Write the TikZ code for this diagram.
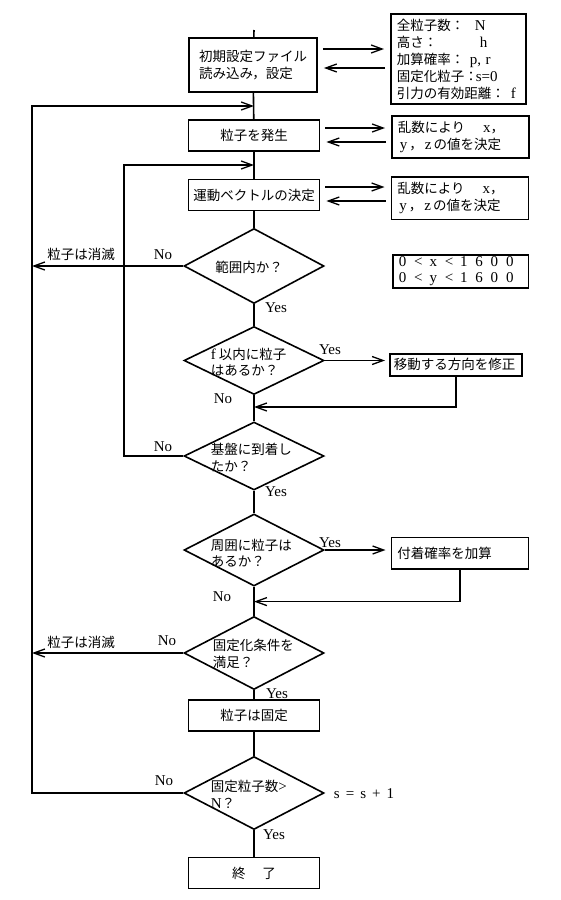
\documentclass[tikz,border=0pt]{standalone}
\usepackage{fontspec}
\setmainfont{Liberation Serif}
\newfontfamily\jp{Noto Sans CJK JP}
\usetikzlibrary{arrows.meta,shapes.geometric}
\newcommand\wc[1]{\makebox[15.3pt][l]{#1}}
\newcommand\lat[1]{{\rmfamily\fontsize{15}{16.5}\selectfont #1}}
\begin{document}
\begin{tikzpicture}[x=1pt,y=-1pt,
  line width=1.6pt,
  arr/.style={-{Straight Barb[length=11pt,width=8pt,line width=1.3pt]}},
  jtext/.style={font=\jp\fontsize{13.5}{16.5}\selectfont},
  ltext/.style={font=\rmfamily\fontsize{15}{16}\selectfont},
  box/.style={draw, line width=1.8pt, minimum width=131pt, minimum height=31pt, inner sep=1pt, jtext},
  rbox/.style={draw, line width=1.8pt, inner xsep=6pt, inner ysep=1pt, align=left, jtext, anchor=north west},
  dia/.style={draw, diamond, line width=1.6pt, minimum width=140pt, inner sep=0pt},
  dtext/.style={jtext, align=left, anchor=west, inner sep=0pt},
  lbl/.style={ltext, inner sep=0pt},
  jlbl/.style={jtext, inner sep=0pt},
  side/.style={arr, shorten <=5pt, shorten >=6pt},
]
\useasboundingbox (0,0) rectangle (560,900);

% main column
\coordinate (top) at (254,30);
\node[box, minimum width=128pt, minimum height=54pt, align=left] (init) at (253,65) {初期設定ファイル\\読み込み，設定};
\node[box] (gen) at (254,135.5) {粒子を発生};
\node[box] (vec) at (254,195) {運動ベクトルの決定};
\node[dia, minimum height=75pt] (d1) at (254,266) {};
\node[jlbl] (t1) at (249,267) {範囲内か？};
\node[dia, minimum height=68pt] (d2) at (254,360.5) {};
\node[dtext] (t2) at (210,362) {\lat{f} 以内に粒子\\はあるか？};
\node[dia, minimum height=68pt] (d3) at (254,456) {};
\node[dtext] (t3) at (210,457.5) {基盤に到着し\\たか？};
\node[dia, minimum height=72pt] (d4) at (254,550) {};
\node[dtext] (t4) at (210,553) {周囲に粒子は\\あるか？};
\node[dia, minimum height=73pt] (d5) at (254,653) {};
\node[dtext] (t5) at (212,654) {固定化条件を\\満足？};
\node[box] (fix) at (254,715.5) {粒子は固定};
\node[dia, minimum height=73pt] (d6) at (254,793) {};
\node[dtext] (t6) at (210,794.5) {固定粒子数\lat{>}\\\lat{N}？};
\node[box] (endb) at (254,873) {終\hspace{17pt}了};

% side boxes
\node[rbox, text width=123pt, minimum height=90pt, font=\jp\fontsize{13.5}{17}\selectfont] (params) at (390,13)
  {\makebox[78pt][l]{全粒子数：}\lat{N}\\
   \makebox[83pt][l]{高さ：}\lat{h}\\
   \makebox[73pt][l]{加算確率：}\lat{p, r}\\
   \makebox[79pt][l]{固定化粒子：}\lat{s=0}\\
   \makebox[114pt][l]{引力の有効距離：}\lat{f}};
\node[rbox, text width=125pt, minimum height=42pt] (r2) at (391,115)
  {乱数により\hspace{18pt}\lat{x}，\\\hspace{2pt}\lat{y}\hspace{2pt}，\hspace{2pt}\lat{z}\hspace{2pt}の値を決定};
\node[rbox, text width=125pt, minimum height=42.5pt] (r3) at (390.5,176)
  {乱数により\hspace{18pt}\lat{x}，\\\hspace{2pt}\lat{y}\hspace{2pt}，\hspace{2pt}\lat{z}\hspace{2pt}の値を決定};
\node[rbox, text width=123.6pt, minimum height=32.3pt, font=\rmfamily\fontsize{15}{16}\selectfont] (range) at (392,254.4)
  {\wc{0}\wc{<}\wc{x}\wc{<}\wc{1}\wc{6}\wc{0}0\\\wc{0}\wc{<}\wc{y}\wc{<}\wc{1}\wc{6}\wc{0}0};
\node[rbox, text width=124pt, minimum height=22.3pt, inner xsep=4pt] (mv) at (389,352.7) {移動する方向を修正};
\node[rbox, text width=125pt, minimum height=31.5pt, inner xsep=6pt] (att) at (390.5,536.6) {付着確率を加算};

% coordinates
\coordinate (l1) at (32,106);
\coordinate (j0) at (254,106);
\coordinate (l2) at (124,165);
\coordinate (j2) at (254,165);
\coordinate (k1) at (32,266);
\coordinate (k5) at (32,653);
\coordinate (j1) at (254,407);
\coordinate (j3) at (254,601.6);

% main flow
\draw (top) -- (init);
\draw (init) -- (gen);
\draw (gen) -- (vec);
\draw (vec) -- (d1);
\draw (d1) -- (d2);
\draw (d2) -- (d3);
\draw (d3) -- (d4);
\draw (d4) -- (d5);
\draw (d5) -- (fix);
\draw (fix) -- (d6);
\draw (d6) -- (endb);

% side arrows
\draw[side] (init.east |- 0,49) -- (params.west |- 0,49);
\draw[side] (params.west |- 0,68) -- (init.east |- 0,68);
\draw[side] (gen.east |- 0,128) -- (r2.west |- 0,128);
\draw[side] (r2.west |- 0,142) -- (gen.east |- 0,142);
\draw[side] (vec.east |- 0,187) -- (r3.west |- 0,187);
\draw[side] (r3.west |- 0,201) -- (vec.east |- 0,201);

% branches
\draw[arr] (d1.west) -- (k1);
\draw[arr, shorten >=4pt] (d2.east) -- (d2.east -| mv.west);
\draw[arr] (mv.south) |- (j1);
\draw[arr] (d3.west) -- (d3.west -| l2) -- (l2) -- (j2);
\draw[arr, shorten >=5pt] (d4.east) -- (d4.east -| att.west);
\draw[arr] (att.south) |- (j3);
\draw[arr] (d5.west) -- (k5);
\draw[arr] (d6.west) -- (d6.west -| l1) -- (l1) -- (j0);

% labels
\node[lbl] (n1) at (163,255) {No};
\node[jlbl] (e1) at (81,254) {粒子は消滅};
\node[lbl] (y1) at (276,308) {Yes};
\node[lbl] (y2) at (330,350) {Yes};
\node[lbl] (n2) at (223,399) {No};
\node[lbl] (n3) at (163,447) {No};
\node[lbl] (y3) at (276,492) {Yes};
\node[lbl] (y4) at (330,543) {Yes};
\node[lbl] (n4) at (222,597) {No};
\node[lbl] (n5) at (167,641) {No};
\node[jlbl] (e5) at (81,642) {粒子は消滅};
\node[lbl] (y5) at (277,694) {Yes};
\node[lbl] (n6) at (164,781) {No};
\node[lbl] (y6) at (274,835) {Yes};
\node[lbl] (ss) at (364,794) {s\hspace{6pt}=\hspace{6pt}s\hspace{6pt}+\hspace{6pt}1};
\end{tikzpicture}
\end{document}
